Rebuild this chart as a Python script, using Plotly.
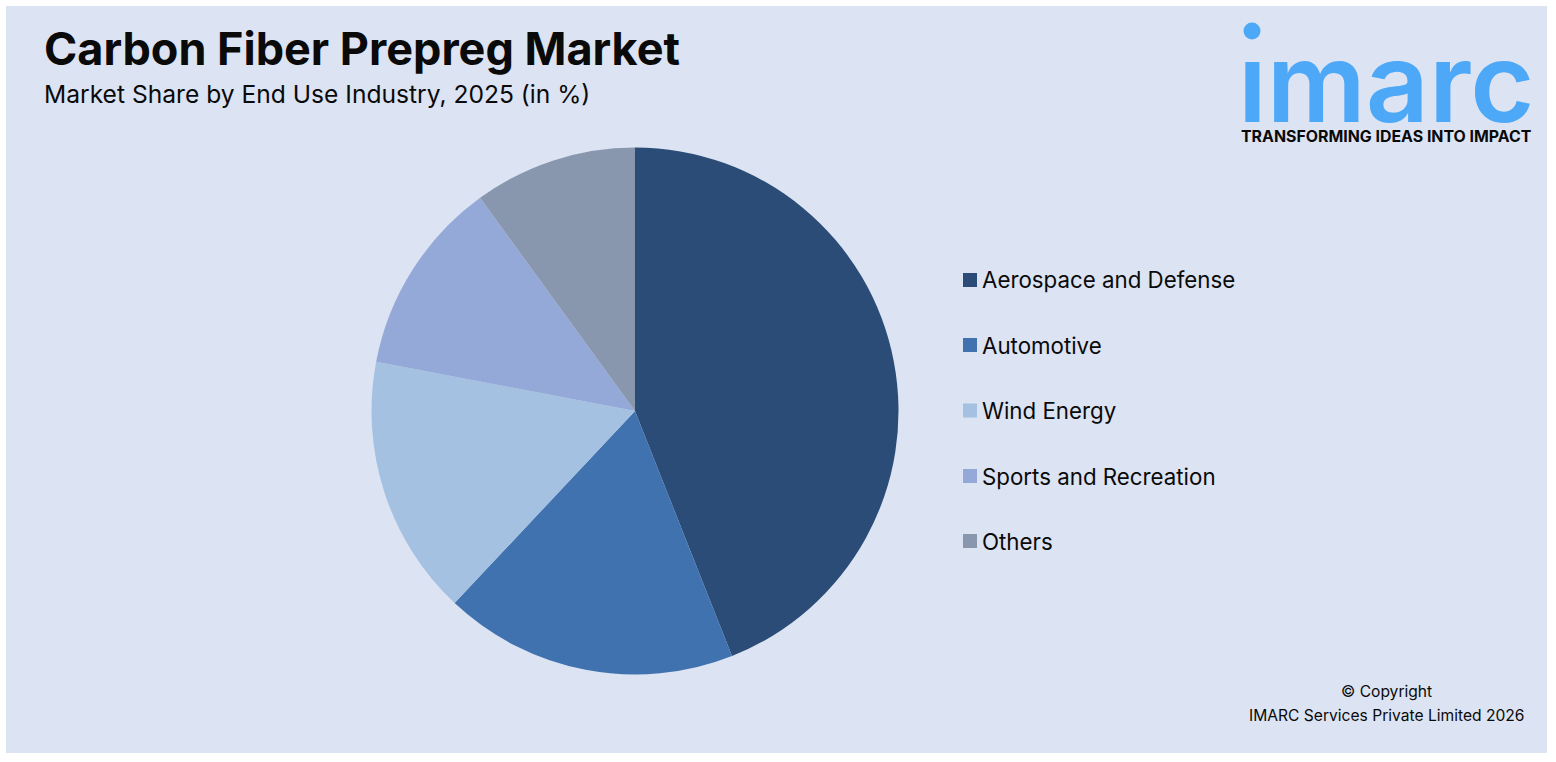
import plotly.graph_objects as go

W, H = 1556, 762
categories = ["Aerospace and Defense", "Automotive", "Wind Energy", "Sports and Recreation", "Others"]
shares = [44, 18, 16, 12, 10]
colors = ["#2B4C76", "#4072AF", "#A5C1E1", "#95A9D8", "#8896AE"]
legend_y = [280, 345, 410.5, 476, 541]

FONT = "Inter"
BG = "#DCE3F2"
LOGO = "#4DA8F8"
INK = "#0A0A0A"

def px(x): return x / W
def py(y): return 1 - y / H

fig = go.Figure(go.Pie(
    labels=categories, values=shares, sort=False, direction="clockwise", rotation=0,
    marker=dict(colors=colors, line=dict(width=0)), textinfo="none", showlegend=False,
    hoverinfo="label+percent",
    domain=dict(x=[px(635 - 263.5), px(635 + 263.5)], y=[py(674.5), py(147.5)]),
))

shapes = [dict(type="rect", xref="paper", yref="paper", x0=px(6), x1=px(1547), y0=py(753), y1=py(6),
               fillcolor=BG, line_width=0, layer="below"),
          dict(type="circle", xref="paper", yref="paper", x0=px(1243.5), x1=px(1260.5), y0=py(39.5), y1=py(22.5),
               fillcolor=LOGO, line_width=0)]
annotations = []

def text(x, y, s, size, anchor="left", weight=400, color=INK, family=FONT):
    annotations.append(dict(xref="paper", yref="paper", x=px(x), y=py(y), text=s, showarrow=False,
                            xanchor=anchor, yanchor="middle", align=anchor,
                            font=dict(family=family, size=size, color=color, weight=weight)))

for c, col, y in zip(categories, colors, legend_y):
    shapes.append(dict(type="rect", xref="paper", yref="paper", x0=px(963), x1=px(977), y0=py(y + 7), y1=py(y - 7),
                       fillcolor=col, line_width=0))
    text(980, y, c, 22.3)

text(42, 48, "Carbon Fiber Prepreg Market", 45, weight=700)
text(42, 94, "Market Share by End Use Industry, 2025 (in %)", 24.6)
text(1386, 691, "© Copyright", 15.6, anchor="center")
text(1386, 715, "IMARC Services Private Limited 2026", 15.6, anchor="center")
text(1385.5, 82, "ımarc", 110, anchor="center", weight=600, color=LOGO)
text(1386.5, 137, "TRANSFORMING IDEAS INTO IMPACT", 15.9, anchor="center", weight=700)

fig.update_layout(width=W, height=H, margin=dict(l=0, r=0, t=0, b=0), paper_bgcolor="white",
                  shapes=shapes, annotations=annotations, showlegend=False)
fig.write_html("out.html", post_script="document.body.style.margin='0';", config=dict(displayModeBar=False))
